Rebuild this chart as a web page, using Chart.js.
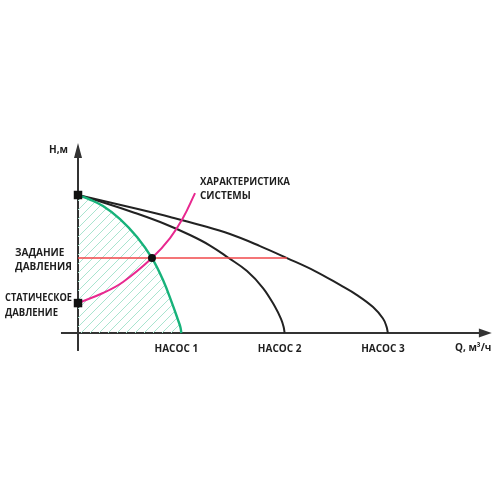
<!DOCTYPE html>
<html>
<head>
<meta charset="utf-8">
<script src="https://cdn.jsdelivr.net/npm/chart.js@4.4.1/dist/chart.umd.min.js"></script>
<style>
html,body{margin:0;padding:0;background:#fff;}
#wrap{width:500px;height:500px;}
</style>
</head>
<body>
<div id="wrap"><canvas id="c" width="500" height="500"></canvas></div>
<script>
// ---- data (Q in m³/h, H in m) ----
const pump1Q = [0, 1.16, 2.42, 4.07, 5.71, 7.16, 8.23, 9.10, 9.68, 9.92, 10.0];
const pump1H = [10, 9.67, 9.20, 8.26, 6.96, 5.43, 3.84, 2.17, 0.95, 0.40, 0];
const pump2Q = [0, 2.61, 5.52, 8.42, 10.84, 12.78, 14.52, 16.36, 17.91, 19.07, 19.65, 19.90, 20.0];
const pump2H = [10, 9.42, 8.70, 7.90, 7.10, 6.34, 5.47, 4.49, 3.26, 1.90, 1.02, 0.45, 0];
const pump3Q = [0, 3.10, 6.00, 8.91, 11.81, 14.71, 17.62, 20.23, 22.94, 25.36, 27.01, 28.56, 29.52, 29.85, 30.0];
const pump3H = [10, 9.46, 8.95, 8.41, 7.83, 7.17, 6.30, 5.43, 4.49, 3.48, 2.75, 1.88, 1.05, 0.50, 0];
const systemQ = [0, 2.42, 4.36, 7.16, 8.91, 10.16, 11.33];
const systemH = [2.17, 2.90, 3.70, 5.43, 6.88, 8.33, 10.14];
const setpointH = 5.43;
const setpointQ = [0, 20.23];
const staticH = 2.17;
const shutoffH = 10;
const operatingQ = 7.16;
const pumpNames = ['НАСОС 1', 'НАСОС 2', 'НАСОС 3'];
const pumpMaxQ = [10, 20, 30];

const pts = (xs, ys) => xs.map((x, i) => ({x: x, y: ys[i]}));

// hatch pattern
function hatch() {
  const s = 9;
  const c = document.createElement('canvas');
  c.width = s; c.height = s;
  const g = c.getContext('2d');
  g.strokeStyle = '#a9e4cf';
  g.lineWidth = 1;
  g.beginPath();
  g.moveTo(-1, s + 1); g.lineTo(s + 1, -1);
  g.moveTo(-1, 1); g.lineTo(1, -1);
  g.moveTo(s - 1, s + 1); g.lineTo(s + 1, s - 1);
  g.stroke();
  return g.createPattern(c, 'repeat');
}

const AXIS = {xFrom: -1.65, xLineTo: 38.9, xTip: 40.05, yFrom: -1.3, yLineTo: 12.75, yTip: 13.77};

const decor = {
  id: 'decor',
  beforeDatasetsDraw(chart) {
    const ctx = chart.ctx, xs = chart.scales.x, ys = chart.scales.y;
    const x0 = xs.getPixelForValue(0), y0 = ys.getPixelForValue(0);
    ctx.save();
    ctx.strokeStyle = '#333';
    ctx.fillStyle = '#333';
    ctx.lineWidth = 2;
    // x axis
    ctx.beginPath();
    ctx.moveTo(xs.getPixelForValue(AXIS.xFrom), y0);
    ctx.lineTo(xs.getPixelForValue(AXIS.xLineTo), y0);
    ctx.stroke();
    const xb = xs.getPixelForValue(AXIS.xLineTo) - 1, xt = xs.getPixelForValue(AXIS.xTip);
    ctx.beginPath();
    ctx.moveTo(xt, y0); ctx.lineTo(xb, y0 - 4.5); ctx.lineTo(xb, y0 + 4.5); ctx.closePath(); ctx.fill();
    // y axis
    ctx.beginPath();
    ctx.moveTo(x0, ys.getPixelForValue(AXIS.yFrom));
    ctx.lineTo(x0, ys.getPixelForValue(AXIS.yLineTo));
    ctx.stroke();
    const yb = ys.getPixelForValue(AXIS.yLineTo) + 1, yt = ys.getPixelForValue(AXIS.yTip);
    ctx.beginPath();
    ctx.moveTo(x0, yt); ctx.lineTo(x0 - 4, yb); ctx.lineTo(x0 + 4, yb); ctx.closePath(); ctx.fill();
    ctx.restore();
  },
  afterDatasetsDraw(chart) {
    const ctx = chart.ctx, xs = chart.scales.x, ys = chart.scales.y;
    ctx.save();
    ctx.fillStyle = '#1e1e1e';
    ctx.font = 'bold 10px "Open Sans"';
    ctx.textBaseline = 'middle';
    const y0 = ys.getPixelForValue(0);
    ctx.textAlign = 'center';
    pumpNames.forEach((n, i) => {
      ctx.fillText(n, xs.getPixelForValue(pumpMaxQ[i]) - 5, y0 + 16);
    });
    ctx.textAlign = 'left';
    ctx.fillText('Q, м³/ч', 455, y0 + 15);
    ctx.textAlign = 'right';
    ctx.fillText('Н,м', 68, 150);
    ctx.textAlign = 'left';
    ctx.fillText('ХАРАКТЕРИСТИКА', 200, 182, 90);
    ctx.fillText('СИСТЕМЫ', 200, 196);
    ctx.fillText('ЗАДАНИЕ', 15, 253);
    ctx.fillText('ДАВЛЕНИЯ', 15, 267);
    ctx.fillText('СТАТИЧЕСКОЕ', 5, 298, 67);
    ctx.fillText('ДАВЛЕНИЕ', 5, 313, 53);
    ctx.restore();
  }
};

const black = '#222';
const curve = {showLine: true, pointRadius: 0, tension: 0.4, fill: false};
new Chart(document.getElementById('c'), {
  type: 'scatter',
  data: {
    datasets: [
      Object.assign({}, curve, {data: pts(pump1Q, pump1H), borderColor: 'rgba(0,0,0,0)', borderWidth: 0,
       backgroundColor: hatch(), fill: 'origin', order: 10}),
      Object.assign({}, curve, {data: pts(pump3Q, pump3H), borderColor: black, borderWidth: 2, order: 5}),
      Object.assign({}, curve, {data: pts(pump2Q, pump2H), borderColor: black, borderWidth: 2, order: 5}),
      Object.assign({}, curve, {data: pts(setpointQ, [setpointH, setpointH]), borderColor: '#f0474a', borderWidth: 1.6, order: 4}),
      Object.assign({}, curve, {data: pts(pump1Q, pump1H), borderColor: '#17b27a', borderWidth: 2.4, order: 3}),
      Object.assign({}, curve, {data: pts(systemQ, systemH), borderColor: '#e8288f', borderWidth: 2, order: 2}),
      {data: [{x: 0, y: shutoffH}, {x: 0, y: staticH}], showLine: false, pointStyle: 'rect', pointRadius: 6, backgroundColor: '#111', borderColor: '#111', borderWidth: 0, order: 1},
      {data: [{x: operatingQ, y: setpointH}], showLine: false, pointStyle: 'circle', pointRadius: 4, backgroundColor: '#111', borderColor: '#111', borderWidth: 0, order: 1}
    ]
  },
  options: {
    responsive: false,
    animation: false,
    events: [],
    layout: {padding: 0, autoPadding: false},
    plugins: {legend: {display: false}, tooltip: {enabled: false}, title: {display: false}},
    scales: {
      x: {type: 'linear', display: false, min: -7.551, max: 40.85},
      y: {type: 'linear', display: false, min: -12.10, max: 24.13}
    }
  },
  plugins: [decor]
});
</script>
</body>
</html>
